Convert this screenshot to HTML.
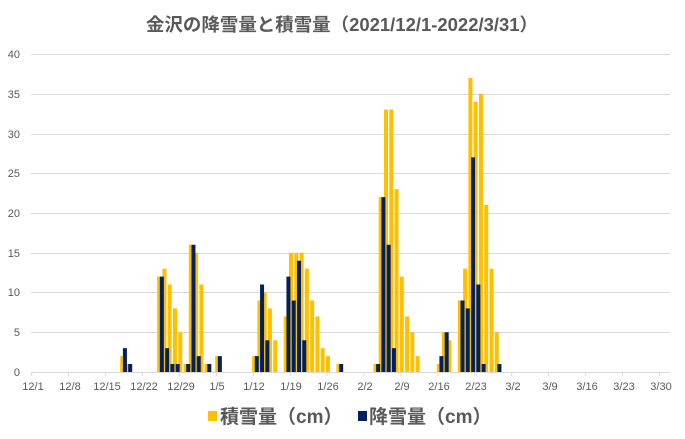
<!DOCTYPE html>
<html>
<head>
<meta charset="utf-8">
<style>
  html, body { margin:0; padding:0; background:#ffffff; }
  body { width:685px; height:439px; overflow:hidden; }
  svg { display:block; }
  .t { font-family:"Liberation Sans","Noto Sans CJK JP",sans-serif; fill:#595959; }
</style>
</head>
<body>
<svg width="685" height="439" viewBox="0 0 685 439" xmlns="http://www.w3.org/2000/svg">
<rect x="0" y="0" width="685" height="439" fill="#ffffff"/>
<text class="t" x="342" y="31" text-anchor="middle" font-size="18" font-weight="bold" textLength="392" lengthAdjust="spacingAndGlyphs">金沢の降雪量と積雪量（2021/12/1-2022/3/31）</text>
<path d="M31 54.5H670M31 94.5H670M31 134.5H670M31 173.5H670M31 213.5H670M31 253.5H670M31 292.5H670M31 332.5H670" stroke="#d9d9d9" stroke-width="1" fill="none"/>
<g class="t" font-size="11" text-anchor="end">
<text x="20" y="58">40</text><text x="20" y="98">35</text><text x="20" y="138">30</text>
<text x="20" y="177">25</text><text x="20" y="217">20</text><text x="20" y="257">15</text>
<text x="20" y="296">10</text><text x="20" y="336">5</text><text x="20" y="376">0</text>
</g>
<g transform="translate(30.57,372) scale(5.275,-7.95)">
<path fill="#FFC000" d="M17 0h.758v2h-.758z M18 0h.758v1h-.758z M24 0h.758v12h-.758z M25 0h.758v13h-.758z M26 0h.758v11h-.758z M27 0h.758v8h-.758z M28 0h.758v5h-.758z M29 0h.758v1h-.758z M30 0h.758v16h-.758z M31 0h.758v15h-.758z M32 0h.758v11h-.758z M33 0h.758v1h-.758z M35 0h.758v2h-.758z
M42 0h.758v2h-.758z M43 0h.758v9h-.758z M44 0h.758v10h-.758z M45 0h.758v8h-.758z M46 0h.758v4h-.758z M48 0h.758v7h-.758z M49 0h.758v15h-.758z M50 0h.758v15h-.758z M51 0h.758v15h-.758z M52 0h.758v13h-.758z M53 0h.758v9h-.758z M54 0h.758v7h-.758z M55 0h.758v3h-.758z M56 0h.758v2h-.758z M58 0h.758v1h-.758z
M65 0h.758v1h-.758z M66 0h.758v22h-.758z M67 0h.758v33h-.758z M68 0h.758v33h-.758z M69 0h.758v23h-.758z M70 0h.758v12h-.758z M71 0h.758v7h-.758z M72 0h.758v5h-.758z M73 0h.758v2h-.758z
M77 0h.758v1h-.758z M78 0h.758v5h-.758z M79 0h.758v4h-.758z M81 0h.758v9h-.758z M82 0h.758v13h-.758z M83 0h.758v37h-.758z M84 0h.758v34h-.758z M85 0h.758v35h-.758z M86 0h.758v21h-.758z M87 0h.758v13h-.758z M88 0h.758v5h-.758z"/>
<path fill="#002060" d="M17.506 0h.758v3h-.758z M18.506 0h.758v1h-.758z M24.506 0h.758v12h-.758z M25.506 0h.758v3h-.758z M26.506 0h.758v1h-.758z M27.506 0h.758v1h-.758z M29.506 0h.758v1h-.758z M30.506 0h.758v16h-.758z M31.506 0h.758v2h-.758z M33.506 0h.758v1h-.758z M35.506 0h.758v2h-.758z
M42.506 0h.758v2h-.758z M43.506 0h.758v11h-.758z M44.506 0h.758v4h-.758z M48.506 0h.758v12h-.758z M49.506 0h.758v9h-.758z M50.506 0h.758v14h-.758z M51.506 0h.758v4h-.758z M58.506 0h.758v1h-.758z
M65.506 0h.758v1h-.758z M66.506 0h.758v22h-.758z M67.506 0h.758v16h-.758z M68.506 0h.758v3h-.758z
M77.506 0h.758v2h-.758z M78.506 0h.758v5h-.758z M81.506 0h.758v9h-.758z M82.506 0h.758v8h-.758z M83.506 0h.758v27h-.758z M84.506 0h.758v11h-.758z M85.506 0h.758v1h-.758z M88.506 0h.758v1h-.758z"/>
</g>
<path d="M31 372.5H670" stroke="#d9d9d9" stroke-width="1" fill="none"/>
<path d="M31.7 372v4M68.6 372v4M105.6 372v4M142.5 372v4M179.4 372v4M216.3 372v4M253.3 372v4M290.2 372v4M327.1 372v4M364 372v4M401 372v4M437.9 372v4M474.8 372v4M511.7 372v4M548.6 372v4M585.6 372v4M622.5 372v4M659.4 372v4" stroke="#d9d9d9" stroke-width="1" fill="none"/>
<g class="t" font-size="11" text-anchor="middle">
<text x="33" y="390">12/1</text><text x="70" y="390">12/8</text><text x="107" y="390">12/15</text>
<text x="144" y="390">12/22</text><text x="181" y="390">12/29</text><text x="217" y="390">1/5</text>
<text x="254" y="390">1/12</text><text x="291" y="390">1/19</text><text x="328" y="390">1/26</text>
<text x="365" y="390">2/2</text><text x="402" y="390">2/9</text><text x="439" y="390">2/16</text>
<text x="476" y="390">2/23</text><text x="513" y="390">3/2</text><text x="550" y="390">3/9</text>
<text x="587" y="390">3/16</text><text x="624" y="390">3/23</text><text x="661" y="390">3/30</text>
</g>
<rect x="208" y="411" width="9" height="10" fill="#FFC000"/>
<text class="t" x="220" y="423" font-size="19" font-weight="bold">積雪量（cm）</text>
<rect x="358" y="411" width="9" height="10" fill="#002060"/>
<text class="t" x="369" y="423" font-size="19" font-weight="bold">降雪量（cm）</text>
</svg>
</body>
</html>
